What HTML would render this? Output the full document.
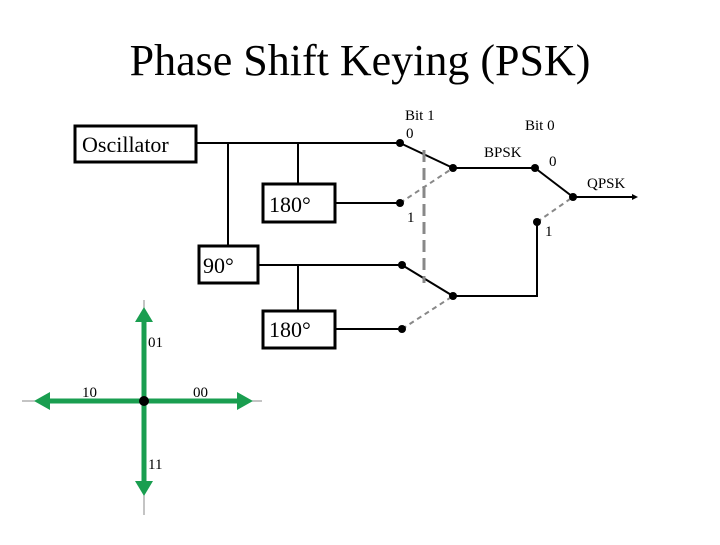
<!DOCTYPE html>
<html><head><style>
body{margin:0;background:#fff;width:720px;height:540px;overflow:hidden}
svg text{font-family:"Liberation Serif",serif;fill:#000}
</style></head><body>
<svg width="720" height="540" viewBox="0 0 720 540">
<text x="360" y="75" font-size="44" text-anchor="middle">Phase Shift Keying (PSK)</text>
<g stroke="#000" stroke-width="2" fill="none">
<rect x="75" y="126" width="121" height="36" stroke-width="3"/>
<rect x="263" y="184" width="72" height="38" stroke-width="3"/>
<rect x="199" y="246" width="59" height="37" stroke-width="3"/>
<rect x="263" y="311" width="72" height="37" stroke-width="3"/>
<path d="M196 143H400M228 143V246M298 143V184M335 203H400M258 265H402M298 265V311M335 329H402"/>
<path d="M400 143L453 168M402 265L453 296M453 168H535M535 168L573 197M573 197H632M537 222V296H453"/>
</g>
<path d="M632 194L638 197L632 200Z" fill="#000"/>
<g stroke="#888" stroke-width="2" stroke-dasharray="5,4" fill="none">
<path d="M400 203L453 168M402 329L453 296M537 222L573 197"/>
<path d="M424 150V283" stroke-width="3" stroke-dasharray="12,6"/>
</g>
<g fill="#000">
<circle cx="400" cy="143" r="4"/><circle cx="400" cy="203" r="4"/><circle cx="402" cy="265" r="4"/><circle cx="402" cy="329" r="4"/>
<circle cx="453" cy="168" r="4"/><circle cx="453" cy="296" r="4"/><circle cx="535" cy="168" r="4"/><circle cx="573" cy="197" r="4"/><circle cx="537" cy="222" r="4"/>
</g>
<text x="82" y="152" font-size="22">Oscillator</text>
<text x="269" y="212" font-size="22">180°</text>
<text x="203" y="273" font-size="22">90°</text>
<text x="269" y="337" font-size="22">180°</text>
<g font-size="15">
<text x="405" y="120">Bit 1</text>
<text x="406" y="138">0</text>
<text x="407" y="222">1</text>
<text x="525" y="130">Bit 0</text>
<text x="484" y="157">BPSK</text>
<text x="549" y="166">0</text>
<text x="587" y="188">QPSK</text>
<text x="545" y="236">1</text>
</g>
<g stroke="#888" stroke-width="1">
<path d="M144 300V515M22 401H262"/>
</g>
<g stroke="#1a9e50" stroke-width="5" fill="#1a9e50">
<path d="M144 401V315M144 401V488M144 401H42M144 401H245" fill="none"/>
</g>
<g fill="#1a9e50">
<path d="M144 307L135 322L153 322Z"/>
<path d="M144 496L135 481L153 481Z"/>
<path d="M34 401L50 392L50 410Z"/>
<path d="M253 401L237 392L237 410Z"/>
</g>
<circle cx="144" cy="401" r="5" fill="#000"/>
<g font-size="15">
<text x="148" y="347">01</text>
<text x="82" y="397">10</text>
<text x="193" y="397">00</text>
<text x="148" y="469">11</text>
</g>
</svg>
</body></html>
